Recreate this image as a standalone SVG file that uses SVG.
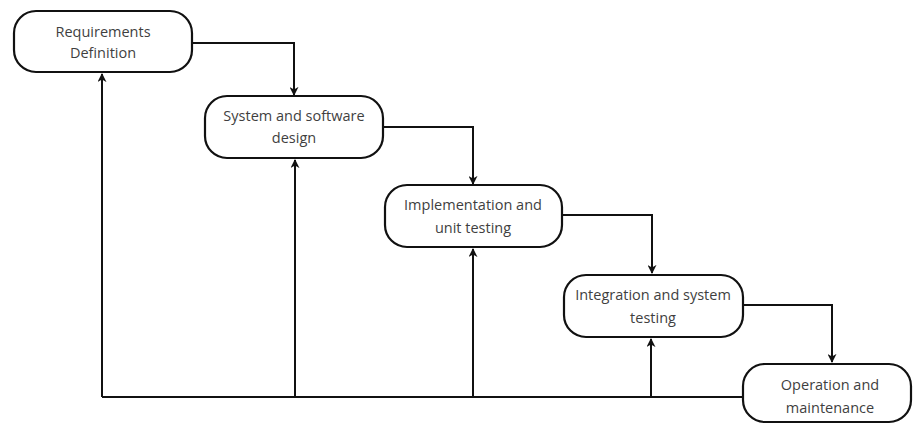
<svg xmlns="http://www.w3.org/2000/svg" width="914" height="425" viewBox="0 0 914 425">
  <defs>
    <marker id="arr" viewBox="0 0 10 10" refX="9" refY="5" markerWidth="4.5" markerHeight="4.5" orient="auto" markerUnits="strokeWidth">
      <path d="M0,0 L10,5 L0,10 L3,5 Z" fill="#111"/>
    </marker>
    <style>
      .box { fill: #ffffff; stroke: #111; stroke-width: 2.2; }
      .lbl { font-family: "Open Sans", "Lato", sans-serif; font-size: 14.5px; fill: #3f3f3f; text-anchor: middle; }
      .conn { fill: none; stroke: #111; stroke-width: 2; marker-end: url(#arr); }
      .plain { fill: none; stroke: #111; stroke-width: 2; }
    </style>
  </defs>
  <rect width="914" height="425" fill="#ffffff"/>
  <g id="connectors">
    <path class="conn" d="M192,43 H294 V95"/>
    <path class="conn" d="M383,127 H473 V184"/>
    <path class="conn" d="M562,215 H652 V273"/>
    <path class="conn" d="M743,305 H832 V362"/>
    <path class="plain" d="M743,397 H102"/>
    <path class="conn" d="M102,397 V74"/>
    <path class="conn" d="M295,397 V160"/>
    <path class="conn" d="M473,397 V249"/>
    <path class="conn" d="M651,397 V339"/>
  </g>
  <g id="requirements">
    <rect class="box" x="14" y="11" width="178" height="61" rx="22"/>
    <text class="lbl" x="103" y="37">Requirements</text>
    <text class="lbl" x="103" y="58">Definition</text>
  </g>
  <g id="design">
    <rect class="box" x="205" y="96" width="178" height="62" rx="22"/>
    <text class="lbl" x="294" y="121">System and software</text>
    <text class="lbl" x="294" y="143">design</text>
  </g>
  <g id="implementation">
    <rect class="box" x="385" y="185" width="177" height="62" rx="22"/>
    <text class="lbl" x="473" y="210">Implementation and</text>
    <text class="lbl" x="473" y="233">unit testing</text>
  </g>
  <g id="integration">
    <rect class="box" x="564" y="275" width="179" height="62" rx="22"/>
    <text class="lbl" x="653" y="300">Integration and system</text>
    <text class="lbl" x="653" y="323">testing</text>
  </g>
  <g id="operation">
    <rect class="box" x="743" y="364" width="168" height="58" rx="22"/>
    <text class="lbl" x="830" y="390">Operation and</text>
    <text class="lbl" x="830" y="413">maintenance</text>
  </g>
</svg>
